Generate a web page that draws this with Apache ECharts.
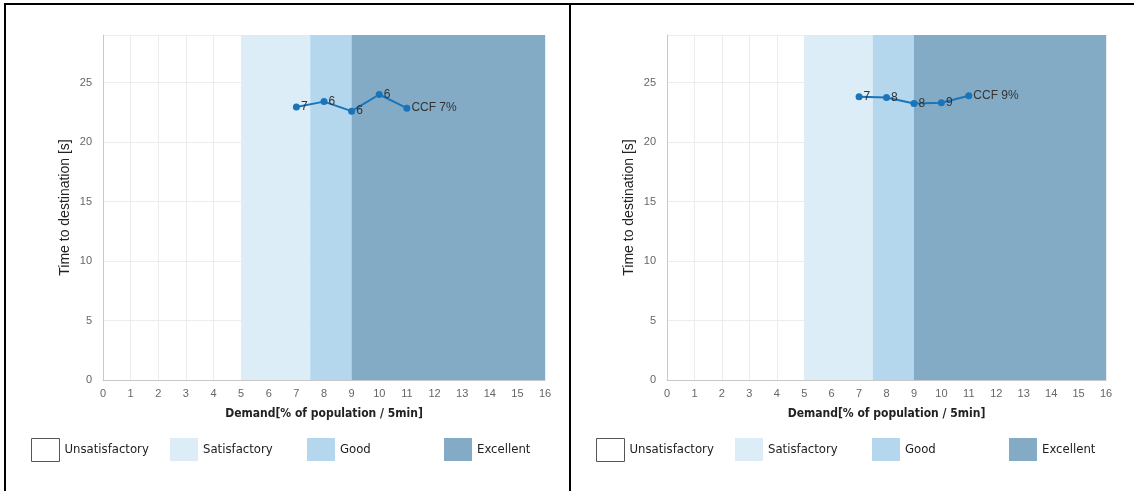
<!DOCTYPE html>
<html>
<head>
<meta charset="utf-8">
<script src="https://cdn.jsdelivr.net/npm/echarts@6/dist/echarts.min.js"></script>
<style>
html,body{margin:0;padding:0;background:#fff;}
#chart{width:1134px;height:491px;}
</style>
</head>
<body>
<div id="chart"></div>
<script>
// ---- data ----
const xTicks = [0,1,2,3,4,5,6,7,8,9,10,11,12,13,14,15,16];
const yTicks = [0,5,10,15,20,25];
const leftX = [7, 8, 9, 10, 11];
const leftY = [22.95, 23.4, 22.6, 24.0, 22.85];
const leftLabels = ['7', '6', '6', '6', 'CCF 7%'];
const rightX = [7, 8, 9, 10, 11];
const rightY = [23.8, 23.75, 23.25, 23.3, 23.9];
const rightLabels = ['7', '8', '8', '9', 'CCF 9%'];
const bandNames = ['Unsatisfactory', 'Satisfactory', 'Good', 'Excellent'];
const bandFrom = [0, 5, 7.5, 9];
const bandTo = [5, 7.5, 9, 16];
const xTitle = 'Demand[% of population / 5min]';
const yTitle = 'Time to destination [s]';
const xMax = 16, yMax = 29;

// ---- styles ----
const bandColors = ['#ffffff', '#dcedf7', '#b4d7ee', '#83abc6'];
const lineColor = '#1a74b9';
const tickFont = "'Liberation Sans', Arial, sans-serif";
const condFont = "'Liberation Sans Narrow', 'DejaVu Sans Condensed', 'Roboto Condensed', sans-serif";

const panels = [
  {left: 103, width: 442, xs: leftX, ys: leftY, labels: leftLabels, legendLeft: [31, 170, 307, 444]},
  {left: 667, width: 439, xs: rightX, ys: rightY, labels: rightLabels, legendLeft: [596, 735, 872, 1009]}
];

const grids = [], xAxes = [], yAxes = [], series = [], legends = [];
panels.forEach((p, i) => {
  grids.push({left: p.left, width: p.width, top: 35, height: 345});
  xAxes.push({
    type: 'value', gridIndex: i, min: 0, max: xMax, interval: 1,
    name: xTitle, nameLocation: 'middle', nameGap: 28,
    nameTextStyle: {fontFamily: condFont, fontWeight: 'bold', fontSize: 12, color: '#222'},
    axisLine: {show: true, lineStyle: {color: '#c8c8c8', width: 1}},
    axisTick: {show: false},
    axisLabel: {margin: 8, fontSize: 11, color: '#666', fontFamily: tickFont,
      formatter: v => xTicks.includes(v) ? String(v) : ''},
    splitLine: {show: true, lineStyle: {color: '#ececec', width: 1}}
  });
  yAxes.push({
    type: 'value', gridIndex: i, min: 0, max: yMax, interval: 5,
    name: yTitle, nameLocation: 'middle', nameGap: 31, nameRotate: 90,
    nameTextStyle: {fontFamily: tickFont, fontSize: 14, color: '#222'},
    axisLine: {show: true, lineStyle: {color: '#c8c8c8', width: 1}},
    axisTick: {show: false},
    axisLabel: {margin: 11, fontSize: 11, color: '#666', fontFamily: tickFont,
      formatter: v => yTicks.includes(v) ? String(v) : ''},
    splitLine: {show: true, lineStyle: {color: '#ececec', width: 1}}
  });
  bandNames.forEach((name, b) => {
    const s = {
      type: 'line', name: name, xAxisIndex: i, yAxisIndex: i, data: [],
      color: bandColors[b], silent: true
    };
    if (b > 0) {
      s.markArea = {
        silent: true,
        itemStyle: {color: bandColors[b], opacity: 1},
        data: [[{xAxis: bandFrom[b], yAxis: 0}, {xAxis: bandTo[b], yAxis: yMax}]]
      };
    }
    series.push(s);
    legends.push({
      left: p.legendLeft[b], top: 438, padding: 0,
      itemWidth: 28, itemHeight: 23, itemGap: 0, icon: 'rect',
      selectedMode: false,
      textStyle: {fontFamily: condFont, fontSize: 13, color: '#222'},
      data: [{name: name, itemStyle: b === 0
        ? {color: '#ffffff', borderColor: '#555', borderWidth: 1}
        : {color: bandColors[b], borderWidth: 0}}]
    });
  });
  series.push({
    type: 'line', name: 'CCF' + i, xAxisIndex: i, yAxisIndex: i,
    data: p.xs.map((x, k) => [x, p.ys[k]]),
    symbol: 'circle', symbolSize: 7,
    lineStyle: {color: lineColor, width: 2},
    itemStyle: {color: lineColor},
    z: 5,
    label: {
      show: true, position: 'right', distance: 1,
      fontSize: 12, color: '#333', fontFamily: tickFont,
      formatter: prm => p.labels[prm.dataIndex]
    }
  });
});

const chart = echarts.init(document.getElementById('chart'), null, {renderer: 'canvas'});
chart.setOption({
  animation: false,
  backgroundColor: '#ffffff',
  grid: grids, xAxis: xAxes, yAxis: yAxes, series: series, legend: legends,
  graphic: [
    {type: 'rect', shape: {x: 4, y: 3, width: 1130, height: 2}, style: {fill: '#000'}},
    {type: 'rect', shape: {x: 4, y: 3, width: 2, height: 488}, style: {fill: '#000'}},
    {type: 'rect', shape: {x: 569, y: 3, width: 2, height: 488}, style: {fill: '#000'}}
  ]
});
</script>
</body>
</html>
